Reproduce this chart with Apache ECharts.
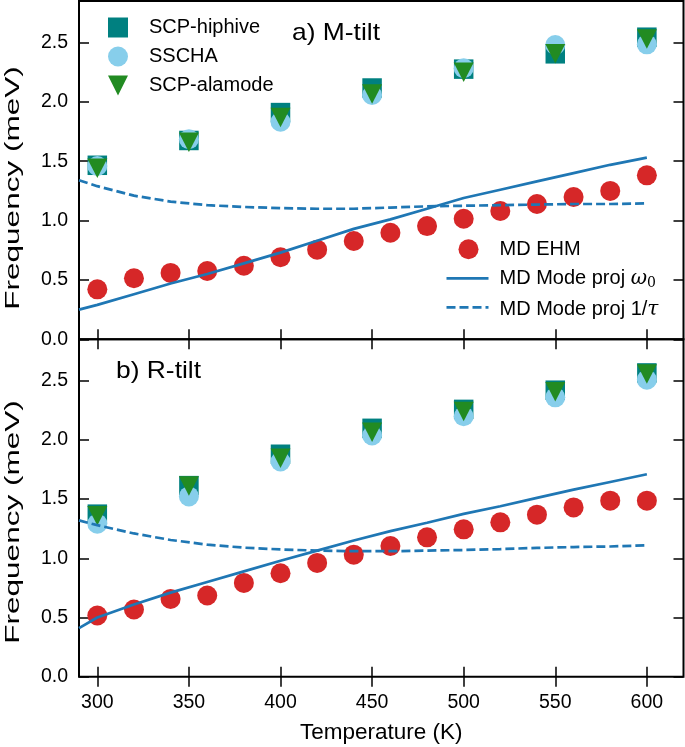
<!DOCTYPE html>
<html><head><meta charset="utf-8">
<script src="https://cdn.jsdelivr.net/npm/echarts@6/dist/echarts.min.js"></script>
<style>html,body{margin:0;padding:0;background:#fff}#c{width:685px;height:747px}</style>
</head><body><div id="c"></div>
<script>
// ---- data ----
const scTemps = [300, 350, 400, 450, 500, 550, 600];
const mdTemps = [300, 320, 340, 360, 380, 400, 420, 440, 460, 480, 500, 520, 540, 560, 580, 600];
const lineTemps = [290, 300, 320, 340, 360, 380, 400, 420, 440, 460, 480, 500, 520, 540, 560, 580, 600];
const xTicks = [300, 350, 400, 450, 500, 550, 600];
const yTicks = [0, 0.5, 1.0, 1.5, 2.0, 2.5];

// a) M-tilt
const aHiphive = [1.466, 1.675, 1.91, 2.117, 2.276, 2.405, 2.545];
const aSscha   = [1.46, 1.685, 1.833, 2.058, 2.283, 2.479, 2.485];
const aAlamode = [1.44, 1.66, 1.869, 2.066, 2.25, 2.406, 2.53];
const aEhm   = [0.421, 0.514, 0.559, 0.575, 0.62, 0.691, 0.755, 0.828, 0.898, 0.954, 1.016, 1.081, 1.14, 1.199, 1.25, 1.381];
const aOmega = [0.25, 0.29, 0.38, 0.47, 0.55, 0.64, 0.73, 0.83, 0.93, 1.01, 1.10, 1.19, 1.26, 1.33, 1.40, 1.47, 1.53];
const aTau   = [1.34, 1.29, 1.21, 1.16, 1.13, 1.115, 1.105, 1.10, 1.10, 1.11, 1.12, 1.125, 1.13, 1.135, 1.14, 1.14, 1.145];

// b) R-tilt
const bHiphive = [1.373, 1.614, 1.879, 2.098, 2.258, 2.42, 2.566];
const bSscha   = [1.293, 1.523, 1.818, 2.037, 2.20, 2.36, 2.509];
const bAlamode = [1.36, 1.61, 1.845, 2.065, 2.24, 2.408, 2.557];
const bEhm   = [0.517, 0.568, 0.657, 0.686, 0.792, 0.874, 0.961, 1.031, 1.104, 1.177, 1.245, 1.304, 1.369, 1.43, 1.487, 1.487];
const bOmega = [0.41, 0.50, 0.61, 0.71, 0.80, 0.89, 0.98, 1.065, 1.15, 1.23, 1.30, 1.375, 1.44, 1.51, 1.58, 1.645, 1.71];
const bTau   = [1.32, 1.28, 1.21, 1.155, 1.115, 1.09, 1.075, 1.065, 1.06, 1.06, 1.065, 1.07, 1.078, 1.088, 1.095, 1.10, 1.11];

// ---- styles ----
const FONT = "'Liberation Sans', Arial, Helvetica, sans-serif";
const C_TEAL = '#008080', C_SKY = '#87CEEB', C_GREEN = '#228B22', C_RED = '#d62728', C_BLUE = '#1f77b4';
const TRI_DOWN = 'path://M0,0L2,0L1,2Z';
const OMEGA = 'MD Mode proj ω0', TAU = 'MD Mode proj 1/τ';
const LW = 2.7, DASH = [9, 4];

const pairs = (xs, ys) => xs.map((x, i) => [x, ys[i]]);

const grids = [
  {left: 79, right: 1.5, top: 1, height: 338.3, show: true, borderColor: '#000', borderWidth: 2, backgroundColor: 'transparent'},
  {left: 79, right: 1.5, top: 339.3, height: 337.4, show: true, borderColor: '#000', borderWidth: 2, backgroundColor: 'transparent'}
];

function xAx(grid, pos, labels) {
  return {
    type: 'value', gridIndex: grid, position: pos, min: 290, max: 620,
    splitLine: {show: false}, axisLine: {show: false},
    axisTick: {show: true, inside: true, length: 10, lineStyle: {color: '#000', width: 1.5}, customValues: xTicks},
    axisLabel: labels ? {show: true, customValues: xTicks, margin: 16, fontSize: 19.5, color: '#000', fontFamily: FONT} : {show: false},
    name: labels ? 'Temperature (K)' : '', nameLocation: 'middle', nameGap: 45,
    nameTextStyle: {fontSize: 22.5, color: '#000', fontFamily: FONT}
  };
}
function yAx(grid, pos, labels) {
  return {
    type: 'value', gridIndex: grid, position: pos, min: 0, max: 2.85,
    splitLine: {show: false}, axisLine: {show: false},
    axisTick: {show: true, inside: true, length: 10, lineStyle: {color: '#000', width: 1.5}, customValues: yTicks},
    axisLabel: labels ? {show: true, customValues: yTicks, margin: 11, fontSize: 19.5, color: '#000', fontFamily: FONT,
      formatter: v => v.toFixed(1)} : {show: false}
  };
}

function panelSeries(xi, yi, hip, ssc, ala, ehm, om, tau) {
  return [
    {name: 'SCP-hiphive', type: 'scatter', xAxisIndex: xi, yAxisIndex: yi, symbol: 'rect', symbolSize: 19.5,
      itemStyle: {color: C_TEAL, opacity: 1}, data: pairs(scTemps, hip), z: 2},
    {name: 'SSCHA', type: 'scatter', xAxisIndex: xi, yAxisIndex: yi, symbol: 'circle', symbolSize: 20,
      itemStyle: {color: C_SKY, opacity: 1}, data: pairs(scTemps, ssc), z: 3},
    {name: 'SCP-alamode', type: 'scatter', xAxisIndex: xi, yAxisIndex: yi, symbol: TRI_DOWN, symbolSize: [20, 19.5],
      itemStyle: {color: C_GREEN, opacity: 1}, data: pairs(scTemps, ala), z: 4},
    {name: 'MD EHM', type: 'scatter', xAxisIndex: xi, yAxisIndex: yi, symbol: 'circle', symbolSize: 20,
      itemStyle: {color: C_RED, opacity: 1}, data: pairs(mdTemps, ehm), z: 2},
    {name: OMEGA, type: 'line', xAxisIndex: xi, yAxisIndex: yi, symbol: 'none', showSymbol: false, smooth: false,
      lineStyle: {color: C_BLUE, width: LW}, itemStyle: {color: C_BLUE}, data: pairs(lineTemps, om), z: 5, clip: true},
    {name: TAU, type: 'line', xAxisIndex: xi, yAxisIndex: yi, symbol: 'none', showSymbol: false, smooth: false,
      lineStyle: {color: C_BLUE, width: LW, type: DASH}, itemStyle: {color: C_BLUE}, data: pairs(lineTemps, tau), z: 5, clip: true}
  ];
}

const legendText = {fontSize: 20, color: '#000', fontFamily: FONT,
  rich: {it: {fontSize: 20, fontStyle: 'italic', fontFamily: 'DejaVu Serif', color: '#000'},
         sub: {fontSize: 14, fontFamily: 'DejaVu Serif', color: '#000', padding: [10, 0, 0, 0]}}};

// legend 2 geometry (icons of line entries drawn as graphic keys)
const L2 = {left: 446.5, top: 239.3, w: 42, h: 20, gap: 9};
const keyY = i => L2.top + i * (L2.h + L2.gap) + L2.h / 2;

const option = {
  animation: false,
  backgroundColor: '#fff',
  textStyle: {fontFamily: FONT},
  grid: grids,
  xAxis: [xAx(0, 'bottom', false), xAx(0, 'top', false), xAx(1, 'bottom', true), xAx(1, 'top', false)],
  yAxis: [yAx(0, 'left', true), yAx(0, 'right', false), yAx(1, 'left', true), yAx(1, 'right', false)],
  legend: [
    {data: ['SCP-hiphive', 'SSCHA', 'SCP-alamode'], orient: 'vertical', left: 108, top: 17.5, padding: 0,
      itemWidth: 20, itemHeight: 20, itemGap: 9, selectedMode: false,
      textStyle: Object.assign({}, legendText, {padding: [0, 0, 0, 16]})},
    {data: ['MD EHM',
        {name: OMEGA, itemStyle: {opacity: 0}, lineStyle: {opacity: 0}},
        {name: TAU, itemStyle: {opacity: 0}, lineStyle: {opacity: 0}}],
      orient: 'vertical', left: L2.left, top: L2.top, padding: 0,
      itemWidth: L2.w, itemHeight: L2.h, itemGap: L2.gap, selectedMode: false,
      textStyle: Object.assign({}, legendText, {padding: [0, 0, 0, 5]}),
      formatter: n => n === OMEGA ? 'MD Mode proj {it|ω}{sub|0}' : (n === TAU ? 'MD Mode proj 1/{it|τ}' : n)}
  ],
  graphic: [
    {type: 'text', x: 292, y: 33.5, scaleX: 1.1, style: {text: 'a) M-tilt', font: '24px ' + FONT, fill: '#000', align: 'left', verticalAlign: 'middle'}},
    {type: 'text', x: 116, y: 371.5, scaleX: 1.1, style: {text: 'b) R-tilt', font: '24px ' + FONT, fill: '#000', align: 'left', verticalAlign: 'middle'}},
    {type: 'text', x: 13, y: 188, rotation: Math.PI / 2, scaleX: 1.5, style: {text: 'Frequency (meV)', font: '21px ' + FONT, fill: '#000', align: 'center', verticalAlign: 'middle'}},
    {type: 'text', x: 13, y: 522, rotation: Math.PI / 2, scaleX: 1.5, style: {text: 'Frequency (meV)', font: '21px ' + FONT, fill: '#000', align: 'center', verticalAlign: 'middle'}},
    {type: 'line', z: 100, shape: {x1: L2.left, y1: keyY(1), x2: L2.left + L2.w, y2: keyY(1)}, style: {stroke: C_BLUE, lineWidth: LW}},
    {type: 'line', z: 100, shape: {x1: L2.left, y1: keyY(2), x2: L2.left + L2.w, y2: keyY(2)}, style: {stroke: C_BLUE, lineWidth: LW, lineDash: DASH}}
  ],
  series: [].concat(
    panelSeries(0, 0, aHiphive, aSscha, aAlamode, aEhm, aOmega, aTau),
    panelSeries(2, 2, bHiphive, bSscha, bAlamode, bEhm, bOmega, bTau)
  )
};

const chart = echarts.init(document.getElementById('c'), null, {renderer: 'canvas'});
chart.setOption(option);
</script>
</body></html>
